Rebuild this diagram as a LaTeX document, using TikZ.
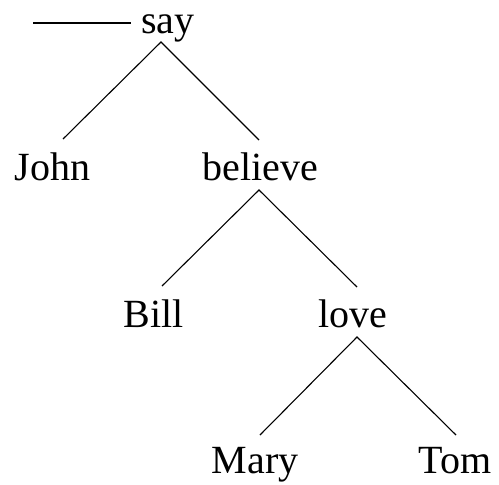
\documentclass[tikz,border=0pt]{standalone}
\usepackage{fontspec}
\setmainfont{Liberation Serif}
\begin{document}
\begin{tikzpicture}[x=1pt,y=-1pt,
  word/.style={anchor=base,inner sep=0pt,font=\fontsize{40}{48}\selectfont},
  edge/.style={draw=black,line width=1.1pt}]
\useasboundingbox (0,0) rectangle (499,485);
\node[word] (say) at (168,33) {say};
\node[word] (john) at (52.5,180) {John};
\node[word] (believe) at (260,180) {believe};
\node[word] (bill) at (154,327) {Bill};
\node[word] (love) at (353,327) {love};
\node[word] (mary) at (255,473) {Mary};
\node[word] (tom) at (455,473) {Tom};
\coordinate (hl) at (33,23);
\coordinate (hr) at (131,23);
\coordinate (sayA) at (161,42);
\coordinate (johnT) at (63,139);
\coordinate (belT) at (259,140);
\coordinate (belA) at (259,190);
\coordinate (billT) at (162,286);
\coordinate (loveT) at (357,287);
\coordinate (loveA) at (357,337);
\coordinate (maryT) at (260,435);
\coordinate (tomT) at (456,435);
\draw[edge] (hl) -- (hr);
\draw[edge] (johnT) -- (sayA) -- (belT);
\draw[edge] (billT) -- (belA) -- (loveT);
\draw[edge] (maryT) -- (loveA) -- (tomT);
\end{tikzpicture}
\end{document}
